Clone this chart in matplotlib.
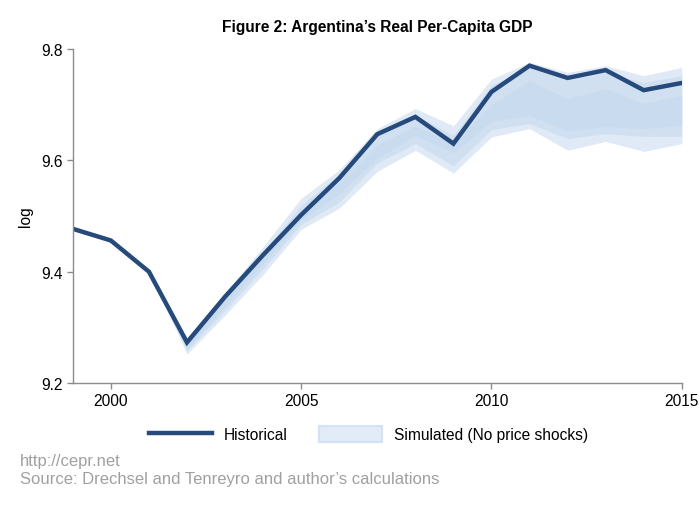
import numpy as np
import matplotlib.pyplot as plt
from matplotlib.patches import Patch
from matplotlib.lines import Line2D

plt.rcParams['font.family'] = ['Liberation Sans', 'DejaVu Sans']

# historical log real per-capita GDP
years = np.arange(1999, 2016)
historical = [9.477, 9.456, 9.400, 9.273, 9.355, 9.430, 9.502, 9.568, 9.647,
              9.678, 9.630, 9.723, 9.770, 9.748, 9.762, 9.726, 9.739]

# simulated bands (no price shocks), 2001-2015
sim_years = np.arange(2001, 2016)
outer_hi = [9.400, 9.280, 9.362, 9.445, 9.532, 9.583, 9.657, 9.693, 9.662, 9.746, 9.776, 9.758, 9.770, 9.752, 9.767]
outer_lo = [9.400, 9.252, 9.322, 9.395, 9.476, 9.514, 9.580, 9.618, 9.577, 9.642, 9.657, 9.618, 9.634, 9.616, 9.630]
mid_hi = [9.400, 9.276, 9.355, 9.435, 9.520, 9.575, 9.645, 9.682, 9.645, 9.735, 9.765, 9.745, 9.757, 9.740, 9.752]
mid_lo = [9.400, 9.258, 9.330, 9.405, 9.485, 9.525, 9.595, 9.630, 9.590, 9.655, 9.666, 9.639, 9.648, 9.643, 9.643]
inner_hi = [9.400, 9.272, 9.350, 9.428, 9.510, 9.560, 9.628, 9.662, 9.630, 9.700, 9.743, 9.711, 9.729, 9.702, 9.717]
inner_lo = [9.400, 9.262, 9.338, 9.415, 9.492, 9.540, 9.604, 9.645, 9.613, 9.670, 9.681, 9.652, 9.661, 9.657, 9.663]

line_col = '#254a7b'
band_col = '#c2d7ee'
grey = '#8c8c8c'

fig = plt.figure(figsize=(7, 5.1), dpi=100)
ax = fig.add_axes([0.104, 0.247, 0.870, 0.655])

for lo, hi in [(outer_lo, outer_hi), (mid_lo, mid_hi), (inner_lo, inner_hi)]:
    ax.fill_between(sim_years, lo, hi, color=band_col, alpha=0.5, lw=0)
ax.plot(years, historical, color=line_col, lw=3.2, solid_joinstyle='miter')

ax.set_xlim(1999, 2015)
ax.set_ylim(9.2, 9.8)
ax.set_xticks([2000, 2005, 2010, 2015])
ax.set_yticks([9.2, 9.4, 9.6, 9.8])
ax.set_yticklabels(['9.2', '9.4', '9.6', '9.8'])
for s in ['top', 'right']:
    ax.spines[s].set_visible(False)
for s in ['left', 'bottom']:
    ax.spines[s].set_color(grey)
    ax.spines[s].set_linewidth(1.0)
ax.tick_params(colors=grey, labelcolor='black', labelsize=11.2, length=4, width=1)
ax.set_ylabel('log', fontsize=11.2, labelpad=6)
ax.set_title("Figure 2: Argentina\u2019s Real Per-Capita GDP", fontsize=11.2,
             fontweight='bold', pad=13)

handles = [Line2D([0], [0], color=line_col, lw=3.2),
           Patch(facecolor='#e2ecf8', edgecolor='#d3e2f3', lw=1.5)]
fig.legend(handles, ['Historical', 'Simulated (No price shocks)'], loc='center',
           bbox_to_anchor=(0.526, 0.147), ncol=2, frameon=False, fontsize=11.2,
           handlelength=4.1, handleheight=1.2, columnspacing=2.0, handletextpad=0.72)

fig.text(0.029, 0.095, 'http://cepr.net', color='#a0a0a0', fontsize=12, va='center')
fig.text(0.029, 0.059, 'Source: Drechsel and Tenreyro and author\u2019s calculations',
         color='#a0a0a0', fontsize=12, va='center')

fig.savefig('out.png', dpi=100)
